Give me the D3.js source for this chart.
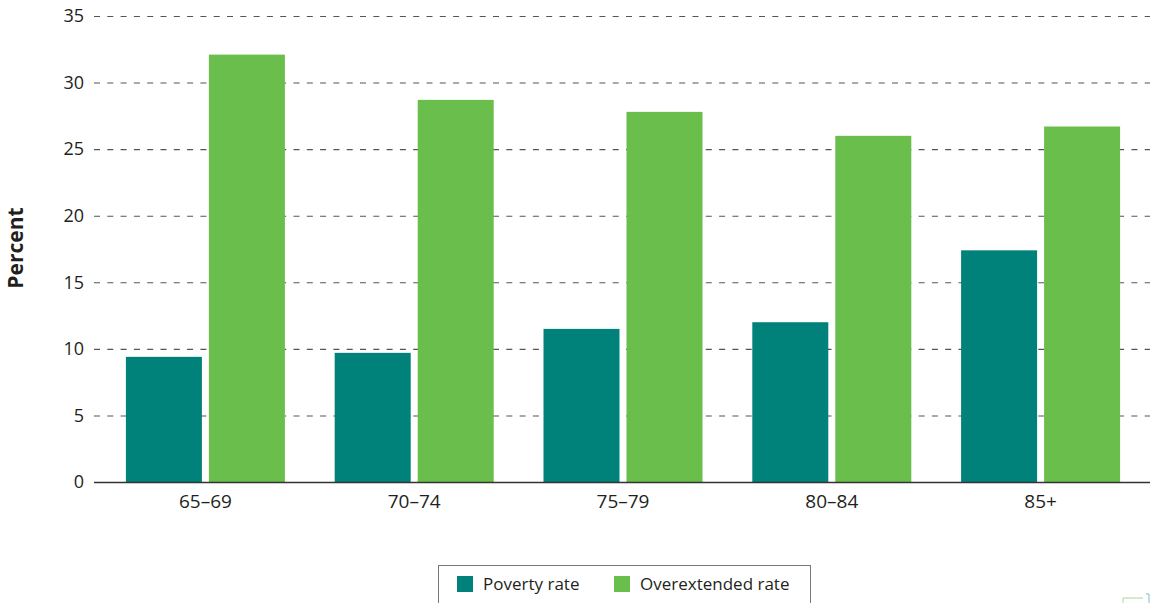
<!DOCTYPE html>
<html>
<head>
<meta charset="utf-8">
<script src="https://cdn.jsdelivr.net/npm/d3@7"></script>
<style>
  body { margin: 0; background: #fff; }
  svg text { font-family: "Open Sans", "Noto Sans", sans-serif; fill: #231f20; }
</style>
</head>
<body>
<svg id="canvas" width="1150" height="603"></svg>
<script>
let ageGroups = ['65\u201369', '70\u201374', '75\u201379', '80\u201384', '85+']
let seriesNames = ['Poverty rate', 'Overextended rate']
let povertyRate = [9.4, 9.7, 11.5, 12.0, 17.4]
let overextendedRate = [32.1, 28.7, 27.8, 26.0, 26.7]
let yTicks = [0, 5, 10, 15, 20, 25, 30, 35]
let colors = ['#00827a', '#6abe4b']

let svg = d3.select('#canvas')

let y = d3.scaleLinear().domain([0, 35]).range([482, 16])
let x0 = d3.scaleBand().domain(ageGroups).range([101, 1145])
let x1 = d3.scaleBand().domain(seriesNames).range([0, 159]).paddingInner(0.0843)
let groupOffset = (x0.bandwidth() - 159) / 2

// dashed grid lines + y labels
let yAxis = d3.axisLeft(y).tickValues(yTicks).tickSize(0).tickPadding(10)
let yg = svg.append('g').attr('transform', 'translate(94,0)').call(yAxis)
yg.select('.domain').remove()
yg.selectAll('text').style('font-size', '18px').attr('fill', '#231f20')
yg.selectAll('.tick')
  .filter(d => d > 0)
  .append('line')
  .attr('x1', 0).attr('x2', 1056)
  .attr('stroke', '#555')
  .attr('stroke-width', 1.1)
  .attr('stroke-dasharray', '6,7.3')

// bars
let rows = ageGroups.map((g, i) => ({ group: g, values: [povertyRate[i], overextendedRate[i]] }))

let groups = svg.selectAll('.grp')
  .data(rows)
  .enter()
  .append('g')
  .attr('class', 'grp')
  .attr('transform', d => 'translate(' + (x0(d.group) + groupOffset) + ',0)')

groups.selectAll('rect')
  .data(d => d.values.map((v, j) => ({ name: seriesNames[j], value: v, idx: j })))
  .enter()
  .append('rect')
  .attr('x', d => x1(d.name))
  .attr('width', x1.bandwidth())
  .attr('y', d => y(d.value))
  .attr('height', d => y(0) - y(d.value))
  .attr('fill', d => colors[d.idx])

// x axis
let xAxis = d3.axisBottom(x0).tickSize(0).tickPadding(13)
let xg = svg.append('g').attr('transform', 'translate(0,482)').call(xAxis)
xg.select('.domain').remove()
xg.selectAll('text').style('font-size', '19px').attr('fill', '#231f20')
svg.append('line')
  .attr('x1', 94).attr('x2', 1150)
  .attr('y1', 482.5).attr('y2', 482.5)
  .attr('stroke', '#333').attr('stroke-width', 1.6)

// y title
svg.append('text')
  .attr('transform', 'translate(23,248) rotate(-90)')
  .attr('text-anchor', 'middle')
  .style('font-size', '21px')
  .style('font-weight', 'bold')
  .text('Percent')

// legend
let legend = svg.append('g')
legend.append('rect')
  .attr('x', 438.5).attr('y', 565.5)
  .attr('width', 372).attr('height', 50)
  .attr('fill', 'none').attr('stroke', '#777').attr('stroke-width', 1)

let legendX = [457, 614]
seriesNames.forEach((name, i) => {
  legend.append('rect')
    .attr('x', legendX[i]).attr('y', 576)
    .attr('width', 16).attr('height', 16)
    .attr('fill', colors[i])
  legend.append('text')
    .attr('x', legendX[i] + 26).attr('y', 590)
    .style('font-size', '17px')
    .text(name)
})

// tiny corner mark
svg.append('path')
  .attr('d', 'M1123,603 L1123,598 L1143,598')
  .attr('fill', 'none').attr('stroke', '#a9d897').attr('stroke-width', 1)
svg.append('path')
  .attr('d', 'M1146,594 L1149,594 L1149,603')
  .attr('fill', 'none').attr('stroke', '#7fbfbb').attr('stroke-width', 1)
</script>
</body>
</html>
